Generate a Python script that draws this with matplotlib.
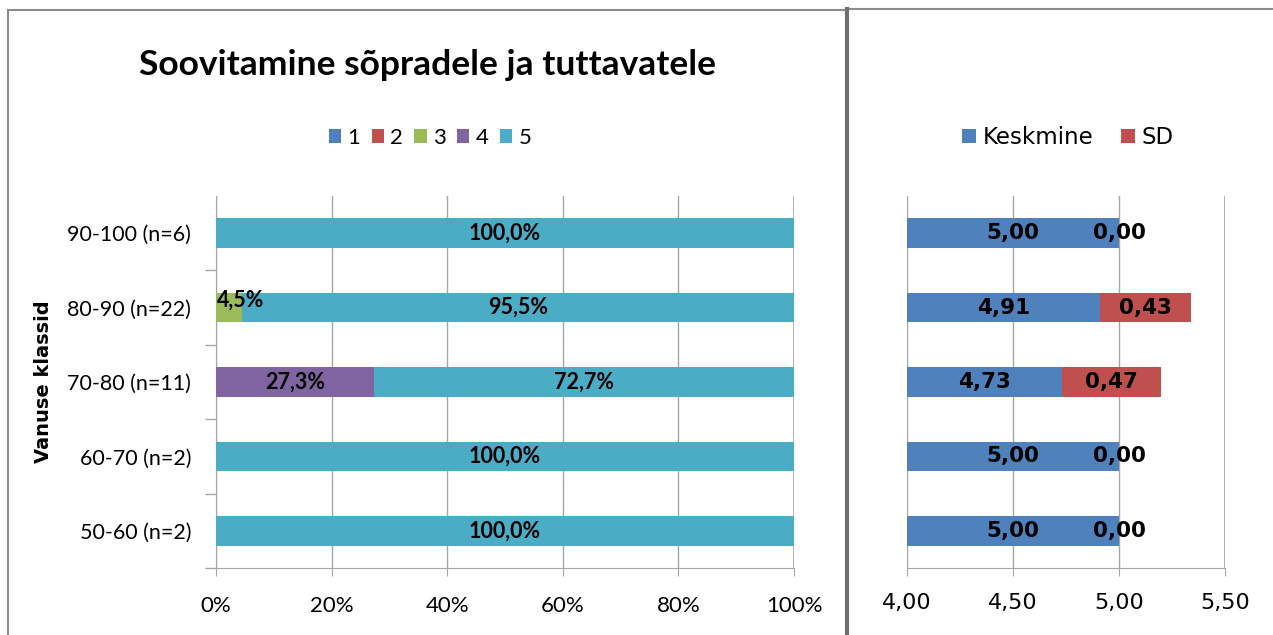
import numpy as np
import matplotlib
matplotlib.use('Agg')
import matplotlib.pyplot as plt
from matplotlib.lines import Line2D

# andmed (alt üles)
vanus = ['50-60 (n=2)', '60-70 (n=2)', '70-80 (n=11)', '80-90 (n=22)', '90-100 (n=6)']
hinne_1 = [0, 0, 0, 0, 0]
hinne_2 = [0, 0, 0, 0, 0]
hinne_3 = [0, 0, 0, 4.5, 0]
hinne_4 = [0, 0, 27.3, 0, 0]
hinne_5 = [100, 100, 72.7, 95.5, 100]
hinded = ['1', '2', '3', '4', '5']

keskmine = [5.00, 5.00, 4.73, 4.91, 5.00]
sd = [0.00, 0.00, 0.47, 0.43, 0.00]

COLORS = ['#4F81BD', '#C0504D', '#9BBB59', '#8064A2', '#4BACC6']
NARROW = ['Lato', 'DejaVu Sans']
GRID = '#A6A6A6'

fig = plt.figure(figsize=(12.73, 6.35), dpi=100)
ax1 = fig.add_axes([0.1697, 0.1055, 0.454, 0.5858])
ax2 = fig.add_axes([0.7125, 0.1055, 0.2498, 0.5858])

y = np.arange(len(vanus))

# vasak: jaotus protsentides
left = np.zeros(len(vanus))
for i, vals in enumerate([hinne_1, hinne_2, hinne_3, hinne_4, hinne_5]):
    vals = np.array(vals, dtype=float)
    ax1.barh(y, vals, left=left, height=0.4, color=COLORS[i], label=hinded[i], zorder=3)
    for j, v in enumerate(vals):
        if v <= 0:
            continue
        txt = f'{v:.1f}%'.replace('.', ',')
        if v < 10:
            ax1.text(left[j] + 0.1, y[j] + 0.1, txt, ha='left', va='center',
                     fontsize=15.5, fontweight='bold', family=NARROW, zorder=4)
        else:
            ax1.text(left[j] + v / 2, y[j], txt, ha='center', va='center',
                     fontsize=15.5, fontweight='bold', family=NARROW, zorder=4)
    left += vals

ax1.set_xlim(0, 100)
ax1.set_ylim(-0.5, 4.5)
ax1.set_xticks(np.arange(0, 101, 20))
ax1.set_xticklabels([f'{t}%' for t in range(0, 101, 20)], family=NARROW, fontsize=16)
ax1.set_yticks(y)
ax1.set_yticklabels(vanus, family=NARROW, fontsize=15.5)
ax1.set_yticks([-0.5, 0.5, 1.5, 2.5, 3.5], minor=True)
ax1.tick_params(axis='y', which='major', length=0, pad=18)
ax1.tick_params(axis='y', which='minor', length=8, width=1, color=GRID)
ax1.tick_params(axis='x', length=6, color=GRID, pad=14)
ax1.grid(axis='x', color=GRID, lw=1, zorder=0)
ax1.axvline(100, color=GRID, lw=1.2, zorder=0)
for s in ['top', 'right']:
    ax1.spines[s].set_visible(False)
for s in ['left', 'bottom']:
    ax1.spines[s].set_color(GRID)
ax1.set_ylabel('Vanuse klassid', fontsize=14, fontweight='bold')
ax1.yaxis.set_label_coords(-0.282, 0.5)

# parem: keskmine ja SD
ax2.barh(y, np.array(keskmine) - 4.0, left=4.0, height=0.4, color=COLORS[0], label='Keskmine', zorder=3)
ax2.barh(y, sd, left=keskmine, height=0.4, color=COLORS[1], label='SD', zorder=3)
for j in range(len(vanus)):
    ax2.text((4.0 + keskmine[j]) / 2, y[j], f'{keskmine[j]:.2f}'.replace('.', ','),
             ha='center', va='center', fontsize=15.5, fontweight='bold', zorder=4)
    ax2.text(keskmine[j] + sd[j] / 2, y[j], f'{sd[j]:.2f}'.replace('.', ','),
             ha='center', va='center', fontsize=15.5, fontweight='bold', zorder=4)

ax2.set_xlim(4.0, 5.5)
ax2.set_ylim(-0.5, 4.5)
ax2.set_xticks([4.0, 4.5, 5.0, 5.5])
ax2.set_xticklabels(['4,00', '4,50', '5,00', '5,50'], fontsize=16)
ax2.set_yticks([])
ax2.tick_params(axis='x', length=6, color=GRID, pad=12)
ax2.grid(axis='x', color=GRID, lw=1, zorder=0)
ax2.axvline(5.5, color=GRID, lw=1.2, zorder=0)
for s in ['top', 'right', 'left']:
    ax2.spines[s].set_visible(False)
ax2.spines['bottom'].set_color(GRID)

# pealkiri ja legendid
fig.text(0.336, 0.898, 'Soovitamine sõpradele ja tuttavatele', ha='center', va='center',
         fontsize=25.5, fontweight='bold', family=NARROW)
fig.legend(*ax1.get_legend_handles_labels(), loc='center', bbox_to_anchor=(0.338, 0.783),
           ncol=5, frameon=False, handlelength=0.55, handleheight=0.55, handletextpad=0.3,
           columnspacing=0.5, prop={'family': NARROW, 'size': 16})
fig.legend(*ax2.get_legend_handles_labels(), loc='center', bbox_to_anchor=(0.839, 0.783),
           ncol=2, frameon=False, handlelength=0.6, handleheight=0.6, handletextpad=0.3,
           columnspacing=1.2, prop={'size': 16.5})

# raamid
W, H = 1273, 635
def px_line(x0, y0, x1, y1, color='#8C8C8C', lw=1.5):
    fig.add_artist(Line2D([x0 / W, x1 / W], [1 - y0 / H, 1 - y1 / H], color=color, lw=lw,
                          transform=fig.transFigure))

px_line(8, 10, 846, 10)
px_line(8, 10, 8, 640)
px_line(849, 9, 1280, 9)
px_line(847, 9, 847, 640, color='#6E6E6E', lw=3)

fig.savefig('out.png', dpi=100)
